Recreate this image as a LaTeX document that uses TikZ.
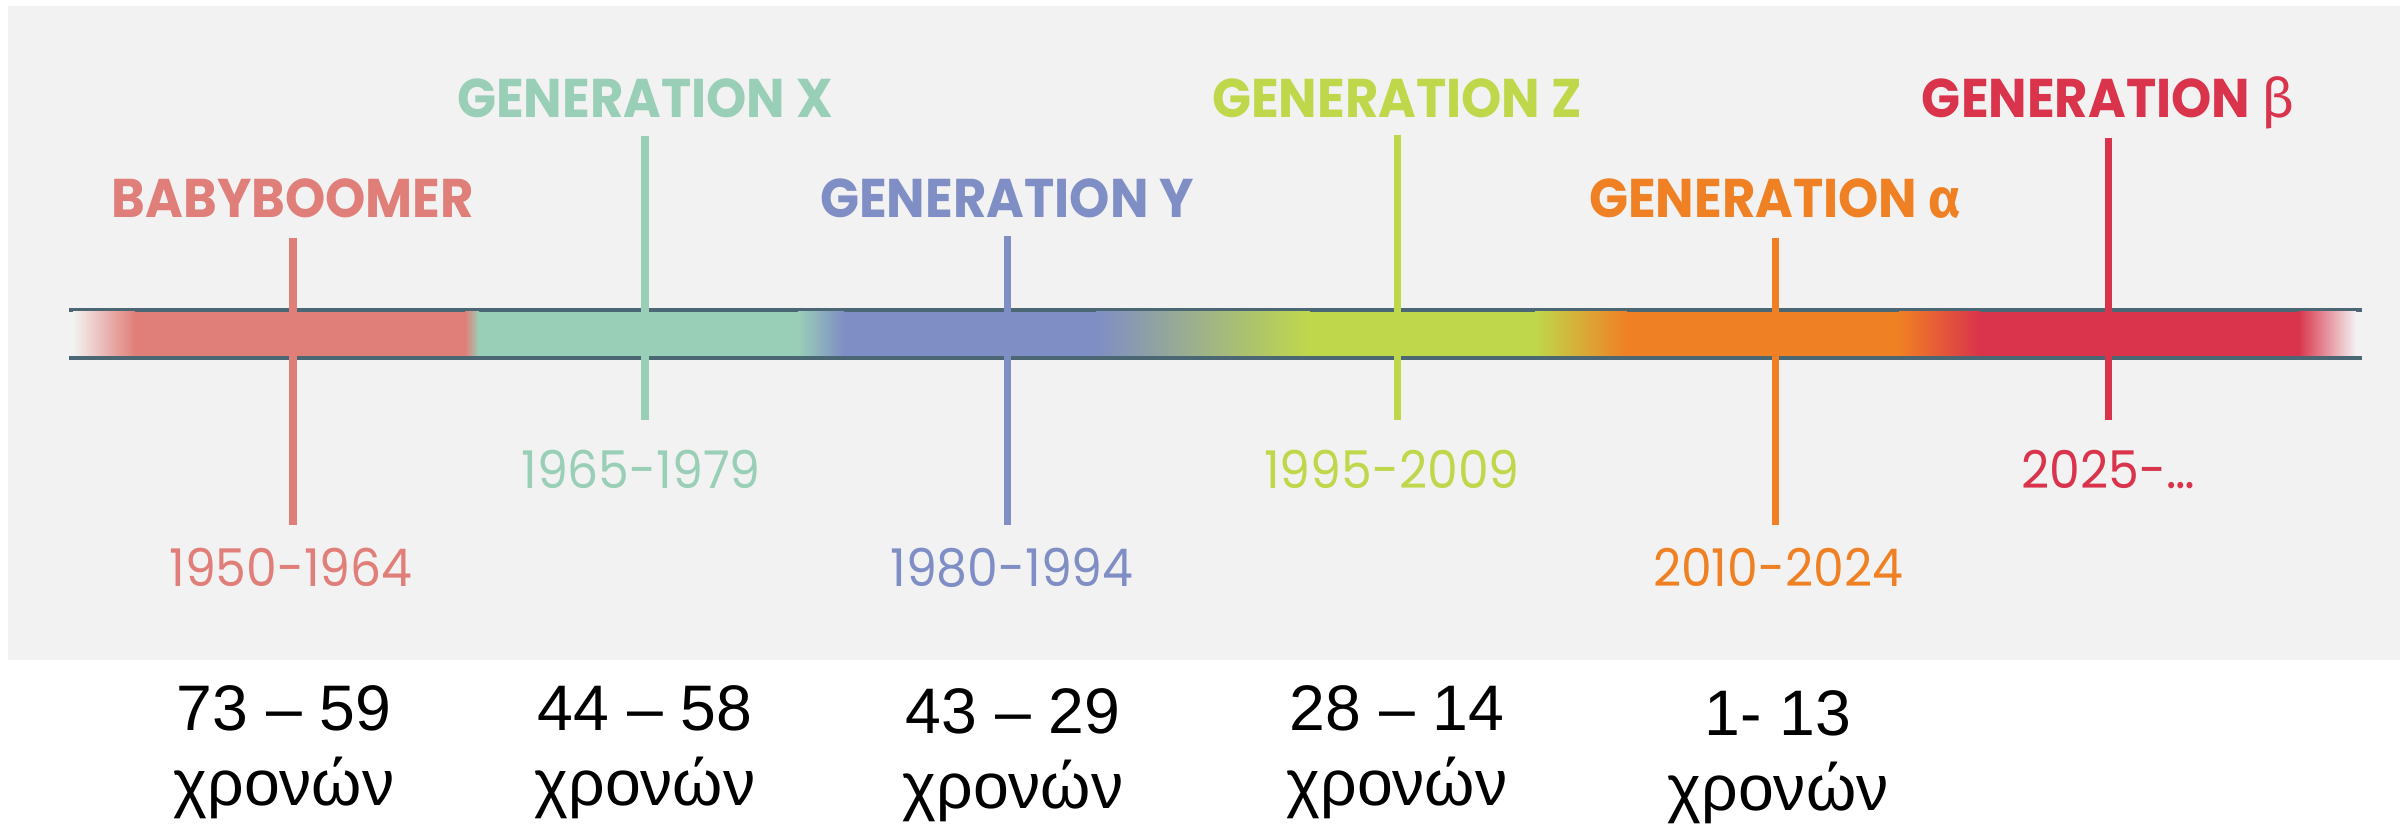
\documentclass[tikz,border=0pt]{standalone}
\usepackage{fontspec}
\usepackage{tikz}
\setmainfont{Liberation Sans}
\newfontfamily\popfont[FakeStretch=0.94]{Poppins}
\newfontfamily\grkfont{Fira Sans}
\definecolor{bgcol}{HTML}{F2F2F2}
\definecolor{linecol}{HTML}{4A6773}
\definecolor{bbcol}{HTML}{E07F79}
\definecolor{gxcol}{HTML}{99CFB7}
\definecolor{gycol}{HTML}{7F8EC4}
\definecolor{gzcol}{HTML}{BFD84B}
\definecolor{gacol}{HTML}{F08024}
\definecolor{gbcol}{HTML}{D9344B}
\tikzset{
    genlabel/.style={font=\popfont\bfseries\fontsize{15.5}{18}\selectfont, anchor=base, inner sep=0pt},
    yearlabel/.style={font=\popfont\fontsize{14.8}{18}\selectfont, anchor=base, inner sep=0pt},
    agelabel/.style={font=\fontsize{18.3}{21.3}\selectfont, align=center, anchor=base, inner sep=0pt},
    barline/.style={draw=linecol, line width=1.1pt},
    genline/.style={line width=2pt}
}

\begin{document}
\begin{tikzpicture}[x=0.01cm, y=-0.01cm]
    \fill[bgcol] (8,6) rectangle (2400,660);
    \useasboundingbox (0,0) rectangle (2407,831);

    % bar edges
    \coordinate (topleft) at (69,310);
    \coordinate (topright) at (2362,310);
    \coordinate (botleft) at (69,358);
    \coordinate (botright) at (2362,358);
    \draw[barline] (topleft) -- (topright);
    \draw[barline] (botleft) -- (botright);

    % generation ticks
    \coordinate (bbtop) at (293,238);  \coordinate (bbbot) at (293,525);
    \coordinate (gxtop) at (645,136);  \coordinate (gxbot) at (645,420);
    \coordinate (gytop) at (1007,236); \coordinate (gybot) at (1007,525);
    \coordinate (gztop) at (1397,135); \coordinate (gzbot) at (1397,420);
    \coordinate (gatop) at (1775,238); \coordinate (gabot) at (1775,525);
    \coordinate (gbtop) at (2108,138); \coordinate (gbbot) at (2108,420);
    \draw[genline, bbcol] (bbtop) -- (bbbot);
    \draw[genline, gxcol] (gxtop) -- (gxbot);
    \draw[genline, gycol] (gytop) -- (gybot);
    \draw[genline, gzcol] (gztop) -- (gzbot);
    \draw[genline, gacol] (gatop) -- (gabot);
    \draw[genline, gbcol] (gbtop) -- (gbbot);

    % colour bar
    \shade[left color=bgcol, right color=bbcol] (73,312) rectangle (135,356);
    \fill[bbcol] (134,312) rectangle (466,356);
    \shade[left color=bbcol, right color=gxcol] (465,312) rectangle (479,356);
    \fill[gxcol] (478,312) rectangle (799,356);
    \shade[left color=gxcol, right color=gycol] (798,312) rectangle (844,356);
    \fill[gycol] (843,312) rectangle (1097,356);
    \shade[left color=gycol, right color=gzcol] (1096,312) rectangle (1310,356);
    \fill[gzcol] (1309,312) rectangle (1536,356);
    \shade[left color=gzcol, right color=gacol] (1535,312) rectangle (1627,356);
    \fill[gacol] (1626,312) rectangle (1900,356);
    \shade[left color=gacol, right color=gbcol] (1899,312) rectangle (1980,356);
    \fill[gbcol] (1979,312) rectangle (2299,356);
    \shade[left color=gbcol, right color=bgcol] (2298,312) rectangle (2356,356);

    \node[genlabel, bbcol] (bbname) at (293,218) {BABYBOOMER};
    \node[genlabel, gxcol] (gxname) at (645,118) {GENERATION X};
    \node[genlabel, gycol] (gyname) at (1007,218) {GENERATION Y};
    \node[genlabel, gzcol] (gzname) at (1397,118) {GENERATION Z};
    \node[genlabel, gacol] (ganame) at (1775,218) {GENERATION {\grkfont α}};
    \node[genlabel, gbcol] (gbname) at (2108,118) {GENERATION {\grkfont\mdseries β}};

    \node[yearlabel, bbcol] (bbyears) at (291,587) {1950-1964};
    \node[yearlabel, gxcol] (gxyears) at (641,489) {1965-1979};
    \node[yearlabel, gycol] (gyyears) at (1012,587) {1980-1994};
    \node[yearlabel, gzcol] (gzyears) at (1392,489) {1995-2009};
    \node[yearlabel, gacol] (gayears) at (1778,587) {2010-2024};
    \node[yearlabel, gbcol] (gbyears) at (2108,489) {2025-…};

    % ages (base = second line)
    \node[agelabel] (bbage) at (284,805) {73 – 59\\χρονών};
    \node[agelabel] (gxage) at (645,805) {44 – 58\\χρονών};
    \node[agelabel] (gyage) at (1013,808) {43 – 29\\χρονών};
    \node[agelabel] (gzage) at (1397,805) {28 – 14\\χρονών};
    \node[agelabel] (gaage) at (1778,810) {1- 13\\χρονών};
\end{tikzpicture}
\end{document}
